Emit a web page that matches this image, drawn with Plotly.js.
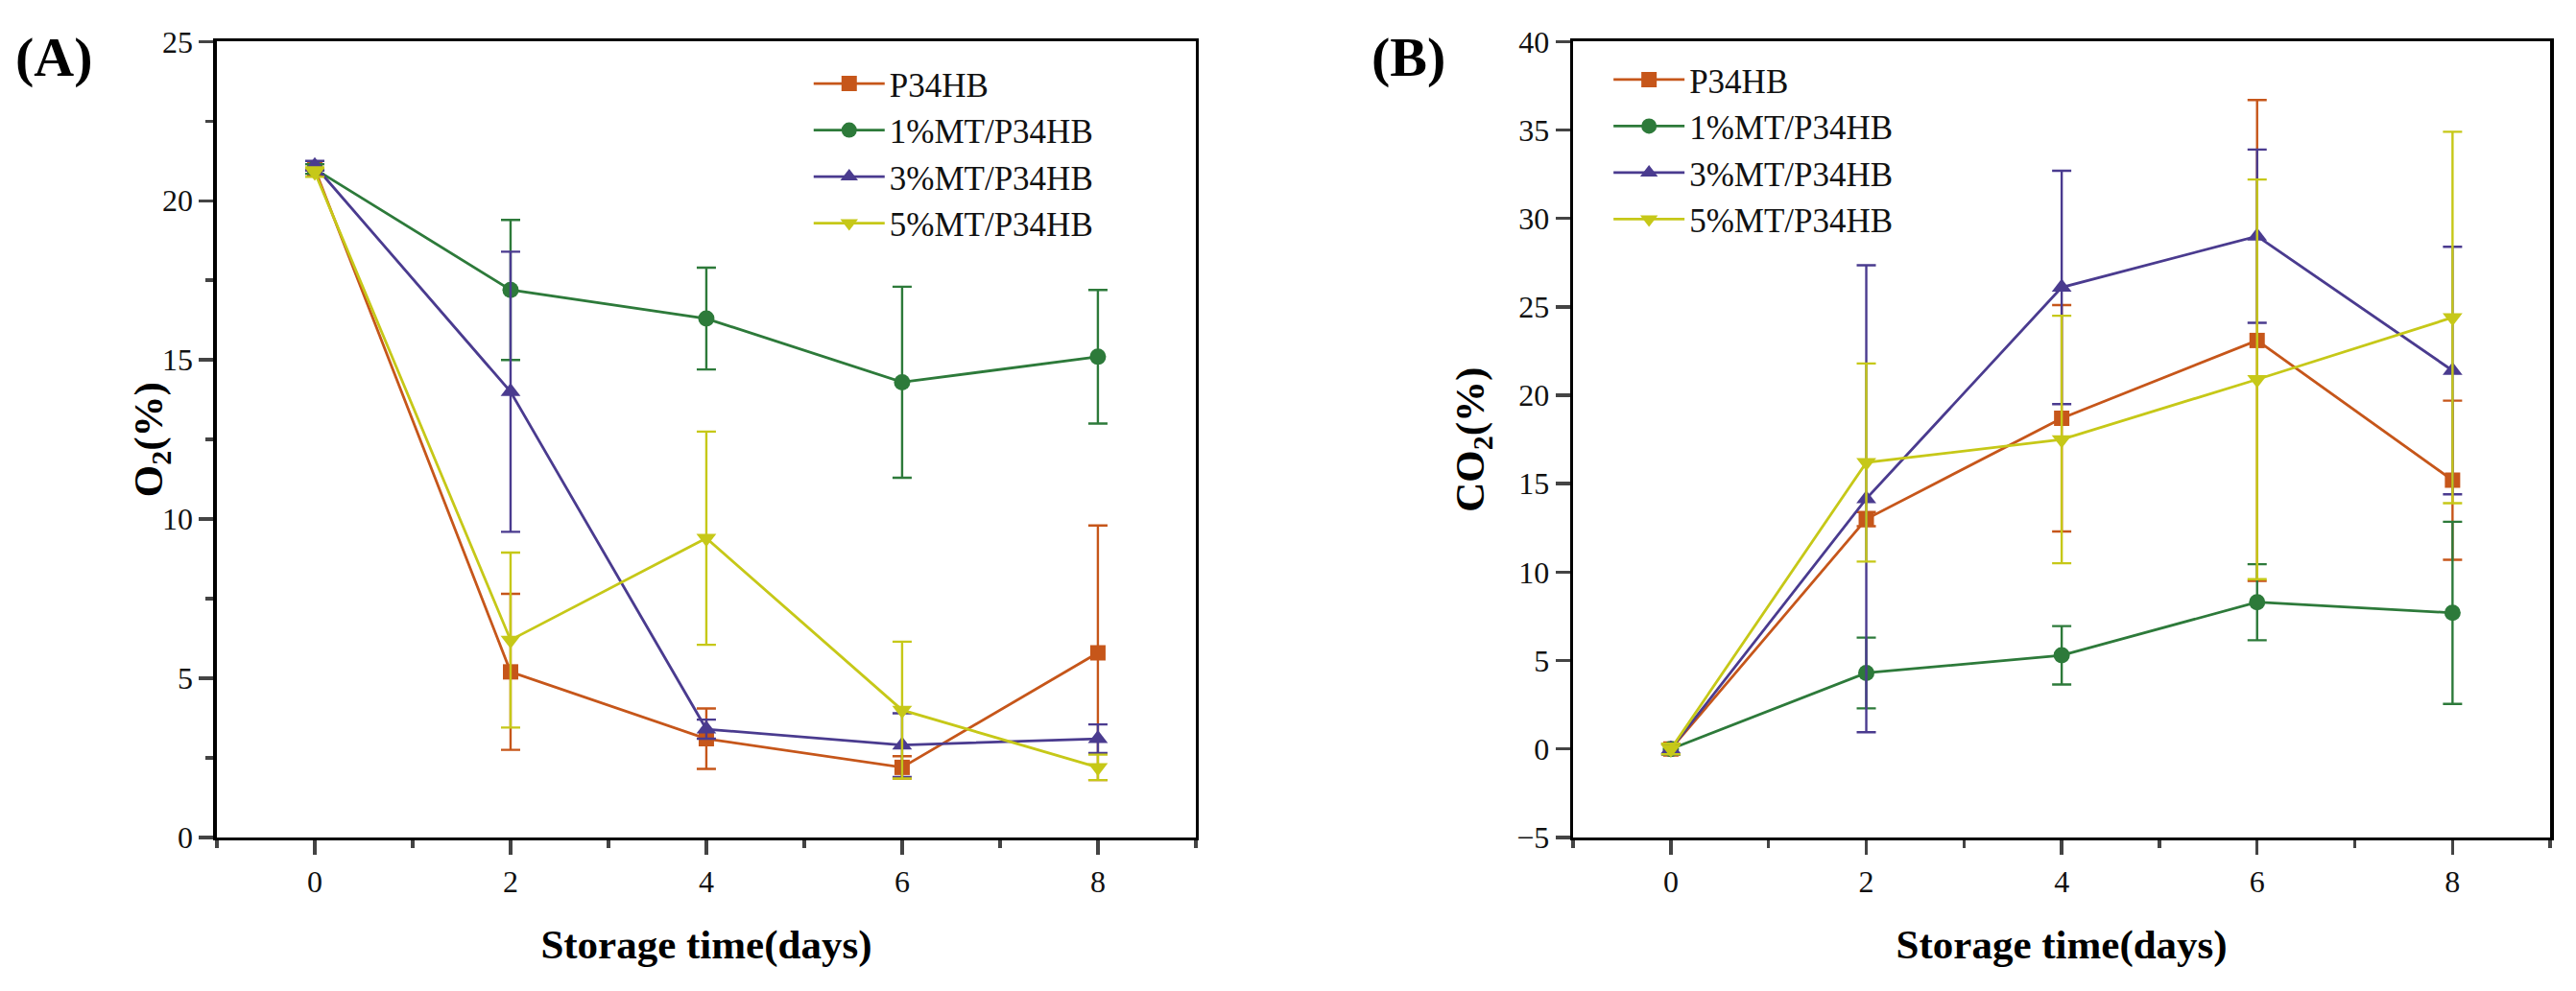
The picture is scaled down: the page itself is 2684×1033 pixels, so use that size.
<!DOCTYPE html>
<html>
<head>
<meta charset="utf-8">
<script src="https://cdn.plot.ly/plotly-3.0.1.min.js"></script>
<style>
  html, body { margin: 0; padding: 0; background: #fff; }
  #chart { width: 2684px; height: 1033px; }
</style>
</head>
<body>
<div id="chart"></div>
<script>
// ===== Data =====
const days = [0, 2, 4, 6, 8];
const seriesNames = ['P34HB', '1%MT/P34HB', '3%MT/P34HB', '5%MT/P34HB'];

// (A) O2 (%)
const o2_P34HB = [21.0, 5.2, 3.1, 2.2, 5.8];
const o2_P34HB_err = [0.15, 2.45, 0.95, 0.35, 4.0];
const o2_MT1 = [21.0, 17.2, 16.3, 14.3, 15.1];
const o2_MT1_err = [0.15, 2.2, 1.6, 3.0, 2.1];
const o2_MT3 = [21.1, 14.0, 3.4, 2.9, 3.1];
const o2_MT3_err = [0.15, 4.4, 0.3, 1.0, 0.45];
const o2_MT5 = [20.9, 6.2, 9.4, 4.0, 2.2];
const o2_MT5_err = [0.15, 2.75, 3.35, 2.15, 0.4];

// (B) CO2 (%)
const co2_P34HB = [0.0, 13.0, 18.7, 23.1, 15.2];
const co2_P34HB_err = [0.3, 0.4, 6.4, 13.6, 4.5];
const co2_MT1 = [0.0, 4.3, 5.3, 8.3, 7.7];
const co2_MT1_err = [0.3, 2.0, 1.65, 2.15, 5.15];
const co2_MT3 = [0.0, 14.15, 26.1, 29.0, 21.4];
const co2_MT3_err = [0.3, 13.2, 6.6, 4.9, 7.0];
const co2_MT5 = [0.0, 16.2, 17.5, 20.9, 24.4];
const co2_MT5_err = [0.3, 5.6, 7.0, 11.3, 10.5];

const xTicks = [0, 2, 4, 6, 8];

// ===== Styles =====
const COLORS = ['#C6561A', '#2D7A3A', '#4A3B8F', '#C6C818'];
const SYMBOLS = ['square', 'circle', 'triangle-up', 'triangle-down'];
const SIZES = [16, 17, 18, 18];
const FONT = 'Liberation Serif, Times New Roman, serif';
const DOM_Y = [0.155, 0.958];

function makeTrace(i, y, err, xa, ya, legend) {
  return {
    x: days, y: y, name: seriesNames[i],
    xaxis: xa, yaxis: ya, legend: legend,
    type: 'scatter', mode: 'lines+markers',
    line: { color: COLORS[i], width: 2.8 },
    marker: { color: COLORS[i], symbol: SYMBOLS[i], size: SIZES[i] },
    error_y: { type: 'data', array: err, visible: true, color: COLORS[i], thickness: 2.4, width: 10 },
  };
}

const traces = [
  makeTrace(0, o2_P34HB, o2_P34HB_err, 'x', 'y', 'legend'),
  makeTrace(1, o2_MT1, o2_MT1_err, 'x', 'y', 'legend'),
  makeTrace(2, o2_MT3, o2_MT3_err, 'x', 'y', 'legend'),
  makeTrace(3, o2_MT5, o2_MT5_err, 'x', 'y', 'legend'),
  makeTrace(0, co2_P34HB, co2_P34HB_err, 'x2', 'y2', 'legend2'),
  makeTrace(1, co2_MT1, co2_MT1_err, 'x2', 'y2', 'legend2'),
  makeTrace(2, co2_MT3, co2_MT3_err, 'x2', 'y2', 'legend2'),
  makeTrace(3, co2_MT5, co2_MT5_err, 'x2', 'y2', 'legend2'),
];

const tickFont = { family: FONT, size: 32, color: '#111' };
const titleFont = { family: FONT, size: 43, color: '#000', weight: 'bold' };

function xAxis(domain, anchor) {
  return {
    domain: domain, anchor: anchor, range: [-1, 9],
    tickvals: xTicks, ticks: 'outside', ticklen: 15, tickwidth: 3.5,
    minor: { dtick: 1, tick0: 1, ticks: 'outside', ticklen: 8, tickwidth: 3.5 },
    showline: true, linewidth: 3.5, linecolor: '#000', mirror: true,
    showgrid: false, zeroline: false, tickfont: tickFont,
    title: { text: 'Storage time(days)', font: titleFont, standoff: 34 },
  };
}

function yAxis(domain, anchor, range, dtick, minor) {
  const ax = {
    domain: domain, anchor: anchor, range: range, dtick: dtick, tick0: 0,
    ticks: 'outside', ticklen: 15, tickwidth: 3.5,
    showline: true, linewidth: 3.5, linecolor: '#000', mirror: true,
    showgrid: false, zeroline: false, tickfont: tickFont,
  };
  if (minor) ax.minor = { dtick: dtick / 2, ticks: 'outside', ticklen: 8, tickwidth: 3.5 };
  return ax;
}

const legendBase = {
  font: { family: FONT, size: 35, color: '#111' },
  bgcolor: 'rgba(0,0,0,0)', borderwidth: 0,
  xanchor: 'left', yanchor: 'top', itemwidth: 74, tracegroupgap: 0,
};

const yMid = (DOM_Y[0] + DOM_Y[1]) / 2;

const layout = {
  width: 2684, height: 1033,
  paper_bgcolor: '#fff', plot_bgcolor: '#fff',
  margin: { l: 0, r: 0, t: 0, b: 0 },
  font: { family: FONT },
  xaxis: xAxis([0.0842, 0.4642], 'y'),
  yaxis: yAxis(DOM_Y, 'x', [0, 25], 5, true),
  xaxis2: xAxis([0.6107, 0.990], 'y2'),
  yaxis2: yAxis(DOM_Y, 'x2', [-5, 40], 5, false),
  legend: { ...legendBase, x: 0.314, y: 0.944 },
  legend2: { ...legendBase, x: 0.6245, y: 0.948 },
  annotations: [
    { text: '(A)', x: 0.0212, y: 0.942, xref: 'paper', yref: 'paper', showarrow: false,
      xanchor: 'center', yanchor: 'middle',
      font: { family: FONT, size: 58, color: '#000', weight: 'bold' } },
    { text: '(B)', x: 0.5466, y: 0.942, xref: 'paper', yref: 'paper', showarrow: false,
      xanchor: 'center', yanchor: 'middle',
      font: { family: FONT, size: 58, color: '#000', weight: 'bold' } },
    { text: 'O<sub>2</sub>(%)', x: 0.0589, y: yMid, xref: 'paper', yref: 'paper', showarrow: false,
      xanchor: 'center', yanchor: 'middle', textangle: -90, font: titleFont },
    { text: 'CO<sub>2</sub>(%)', x: 0.5718, y: yMid, xref: 'paper', yref: 'paper', showarrow: false,
      xanchor: 'center', yanchor: 'middle', textangle: -90, font: titleFont },
  ],
};

Plotly.newPlot('chart', traces, layout, { displayModeBar: false, staticPlot: true });
</script>
</body>
</html>
